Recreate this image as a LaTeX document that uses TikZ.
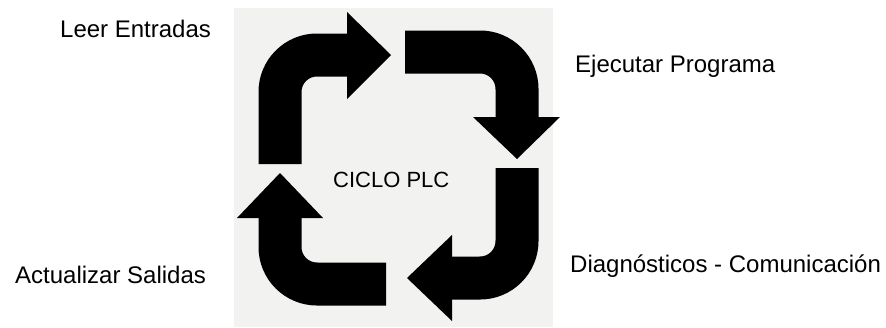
\documentclass[tikz,border=0pt]{standalone}
\usepackage{fontspec}
\setmainfont{Liberation Sans}
\definecolor{fondo}{RGB}{242,242,240}

\begin{document}
\begin{tikzpicture}[
  x=1pt, y=-1pt,
  every node/.style={font=\fontsize{24}{28}\selectfont, inner sep=0pt, anchor=base west},
  barra/.style={draw=black, line width=43pt, rounded corners=37pt},
  punta/.style={fill=black}
]
\useasboundingbox (0,0) rectangle (886,327);
\fill[fondo] (234,8) rectangle (553,327);

% leer -> ejecutar
\draw[barra] (280,164) -- (280,55) -- (348,55);
\fill[punta] (347,12) -- (391,55) -- (347,99) -- cycle;
% ejecutar -> diagnosticos
\draw[barra] (405,52) -- (517,52) -- (517,118);
\fill[punta] (473,117) -- (517,159) -- (560,117) -- cycle;
% diagnosticos -> actualizar
\draw[barra] (517,168) -- (517,278) -- (451,278);
\fill[punta] (452,235) -- (407,278) -- (452,321) -- cycle;
% actualizar -> leer
\draw[barra] (386,284) -- (280,284) -- (280,217);
\fill[punta] (237,218) -- (280,173) -- (323,218) -- cycle;

\node (leer) at (60,37) {Leer Entradas};
\node (ejecutar) at (575,72) {Ejecutar Programa};
\node (diag) at (570,272) {Diagnósticos - Comunicación};
\node (actualizar) at (15,283) {Actualizar Salidas};
\node[font=\fontsize{22}{26}\selectfont] (ciclo) at (333,187) {CICLO PLC};
\end{tikzpicture}
\end{document}
